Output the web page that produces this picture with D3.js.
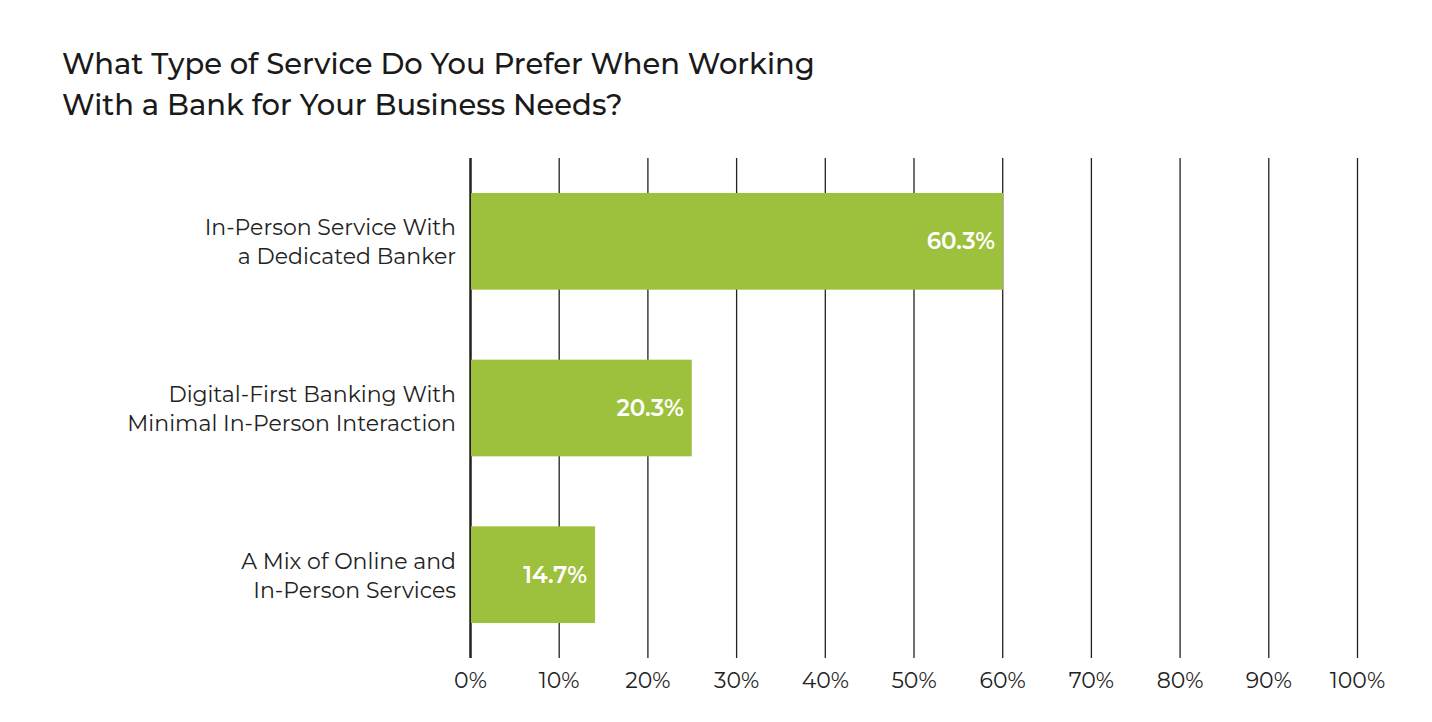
<!DOCTYPE html>
<html>
<head>
<meta charset="utf-8">
<script src="https://cdn.jsdelivr.net/npm/d3@7"></script>
<style>
  body { margin: 0; background: #fff; }
  text { font-family: "Montserrat", "Open Sans", "Noto Sans", sans-serif; }
</style>
</head>
<body>
<script>
var categories = [
  ["In-Person Service With", "a Dedicated Banker"],
  ["Digital-First Banking With", "Minimal In-Person Interaction"],
  ["A Mix of Online and", "In-Person Services"]
];
// bar lengths as drawn in the picture, and the printed labels
var values = [60.1, 25.0, 14.1];
var valueLabels = ["60.3%", "20.3%", "14.7%"];
var ticks = [0, 10, 20, 30, 40, 50, 60, 70, 80, 90, 100];

var width = 1432, height = 722;
var svg = d3.select("body").append("svg").attr("width", width).attr("height", height);

svg.append("text").attr("x", 62).attr("y", 74)
  .attr("font-size", 29).attr("font-weight", 500).attr("fill", "#1a1a1a")
  .text("What Type of Service Do You Prefer When Working");
svg.append("text").attr("x", 62).attr("y", 115)
  .attr("font-size", 29).attr("font-weight", 500).attr("fill", "#1a1a1a")
  .text("With a Bank for Your Business Needs?");

var x = d3.scaleLinear().domain([0, 100]).range([470, 1357]);
var y = d3.scaleBand().domain(d3.range(categories.length)).range([158, 658])
  .paddingInner(0.42).paddingOuter(0.21);

var axis = d3.axisBottom(x).tickValues(ticks).tickFormat(function(d) { return d + "%"; })
  .tickSize(-500).tickPadding(14);
var g = svg.append("g").attr("transform", "translate(0,658)").call(axis);
g.select(".domain").remove();
g.selectAll(".tick line").attr("stroke", "#222").attr("stroke-width", function(d) { return d === 0 ? 2.5 : 1.3; });
g.selectAll(".tick text").attr("font-size", 22).attr("fill", "#222");

svg.append("g").selectAll("rect").data(values).enter().append("rect")
  .attr("x", x(0) + 1)
  .attr("y", function(d, i) { return y(i); })
  .attr("width", function(d) { return x(d) - x(0) - 1; })
  .attr("height", y.bandwidth())
  .attr("fill", "#9DC13C");

svg.append("g").selectAll("text").data(values).enter().append("text")
  .attr("x", function(d) { return x(d) - 8; })
  .attr("y", function(d, i) { return y(i) + y.bandwidth() / 2 + 8; })
  .attr("text-anchor", "end").attr("font-size", 23).attr("font-weight", 600)
  .attr("fill", "#fff")
  .text(function(d, i) { return valueLabels[i]; });

var lab = svg.append("g").selectAll("text").data(categories).enter().append("text")
  .attr("text-anchor", "end").attr("font-size", 22).attr("fill", "#222");
lab.each(function(d, i) {
  var t = d3.select(this);
  var cy = y(i) + y.bandwidth() / 2;
  d.forEach(function(line, j) {
    t.append("tspan").attr("x", 456).attr("y", cy - 6 + j * 29).text(line);
  });
});
</script>
</body>
</html>
